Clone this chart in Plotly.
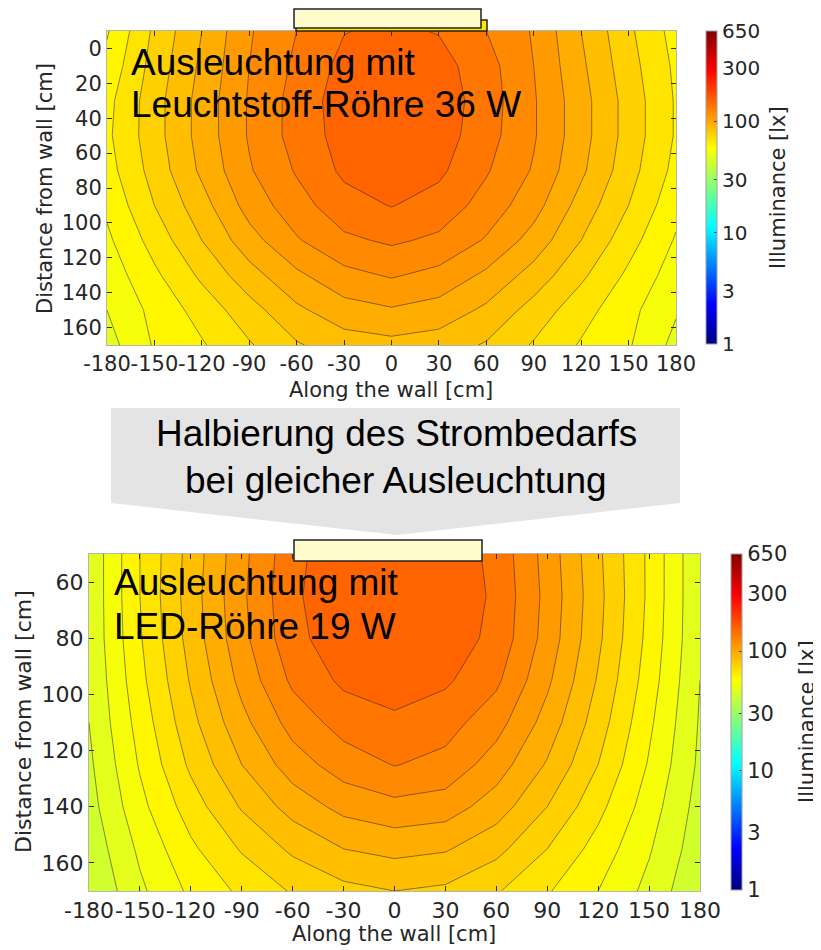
import numpy as np
import plotly.graph_objects as go

W, H = 821, 950
OX, OY = 8, 8   # the page body margin that shifts the figure on screen

# ---------------- data (log10 of illuminance in lx) ----------------
x_cm = [-180, -150, -120, -90, -60, -30, 0, 30, 60, 90, 120, 150, 180]
x_ticks = [-180, -150, -120, -90, -60, -30, 0, 30, 60, 90, 120, 150, 180]
x_ticktext = ["-180", "-150", "-120", "-90", "-60", "-30", "0", "30", "60", "90", "120", "150", "180"]

# Top chart: fluorescent tube 36 W
y_top_cm = [-10, 10, 30, 50, 70, 90, 110, 130, 150, 170]
top_log_lux = [
    [1.745, 1.86, 1.95, 2.045, 2.10, 2.148, 2.16, 2.147, 2.10, 2.045, 1.95, 1.86, 1.78],
    [1.765, 1.87, 1.96, 2.05, 2.11, 2.165, 2.18, 2.17, 2.12, 2.05, 1.96, 1.87, 1.79],
    [1.785, 1.88, 1.97, 2.055, 2.12, 2.175, 2.195, 2.18, 2.125, 2.055, 1.97, 1.88, 1.795],
    [1.79, 1.88, 1.97, 2.055, 2.12, 2.17, 2.195, 2.175, 2.12, 2.055, 1.97, 1.88, 1.795],
    [1.78, 1.87, 1.96, 2.045, 2.105, 2.16, 2.18, 2.16, 2.105, 2.045, 1.96, 1.87, 1.785],
    [1.76, 1.85, 1.93, 2.02, 2.08, 2.13, 2.152, 2.13, 2.08, 2.02, 1.93, 1.85, 1.765],
    [1.74, 1.82, 1.90, 1.98, 2.045, 2.09, 2.108, 2.09, 2.045, 1.98, 1.90, 1.82, 1.745],
    [1.72, 1.79, 1.86, 1.93, 1.99, 2.035, 2.055, 2.035, 1.99, 1.93, 1.86, 1.79, 1.725],
    [1.70, 1.765, 1.82, 1.88, 1.94, 1.98, 1.995, 1.98, 1.94, 1.88, 1.82, 1.765, 1.705],
    [1.68, 1.755, 1.795, 1.845, 1.895, 1.925, 1.935, 1.925, 1.895, 1.845, 1.795, 1.755, 1.685],
]
y_top_ticks = [0, 20, 40, 60, 80, 100, 120, 140, 160]

# Bottom chart: LED tube 19 W
y_bot_cm = [50, 65, 80, 95, 110, 125, 140, 155, 170]
bot_log_lux = [
    [1.66, 1.80, 1.92, 2.035, 2.135, 2.185, 2.19, 2.185, 2.135, 2.03, 1.91, 1.79, 1.655],
    [1.66, 1.80, 1.925, 2.04, 2.14, 2.19, 2.195, 2.19, 2.14, 2.035, 1.915, 1.79, 1.655],
    [1.66, 1.795, 1.92, 2.035, 2.135, 2.18, 2.19, 2.18, 2.135, 2.03, 1.91, 1.785, 1.655],
    [1.655, 1.785, 1.905, 2.015, 2.11, 2.16, 2.175, 2.158, 2.11, 2.01, 1.895, 1.775, 1.65],
    [1.65, 1.77, 1.885, 1.985, 2.07, 2.12, 2.14, 2.12, 2.07, 1.98, 1.875, 1.76, 1.645],
    [1.64, 1.755, 1.86, 1.95, 2.025, 2.075, 2.102, 2.085, 2.025, 1.945, 1.85, 1.745, 1.64],
    [1.63, 1.735, 1.825, 1.905, 1.97, 2.015, 2.035, 2.025, 1.975, 1.90, 1.815, 1.725, 1.63],
    [1.615, 1.71, 1.79, 1.855, 1.91, 1.95, 1.965, 1.955, 1.915, 1.85, 1.78, 1.705, 1.62],
    [1.60, 1.69, 1.76, 1.81, 1.855, 1.885, 1.90, 1.89, 1.855, 1.805, 1.75, 1.685, 1.605],
]
y_bot_ticks = [60, 80, 100, 120, 140, 160]

cbar_lux = [1, 3, 10, 30, 100, 300, 650]
cbar_text = ["1", "3", "10", "30", "100", "300", "650"]
ZMAX = float(np.log10(650))

JET = [[0.0, "#000080"], [0.125, "#0000FF"], [0.375, "#00FFFF"],
       [0.625, "#FFFF00"], [0.875, "#FF0000"], [1.0, "#800000"]]

TXT = "#262626"
TICKFONT = "DejaVu Sans"


def px(x):
    return (x - OX) / W


def py(y):
    return 1 - (y - OY) / H


fig = go.Figure()

# contour levels every 0.05 decade over the whole colour range, so the fill
# colours follow the 1..650 lx colour bar
contours = dict(start=0.0, end=2.80, size=0.05, coloring="fill", showlines=True)
line_style = dict(color="rgba(30,30,30,0.75)", width=0.7, smoothing=0)

fig.add_trace(go.Contour(
    x=x_cm, y=y_top_cm, z=top_log_lux, xaxis="x", yaxis="y",
    zmin=0, zmax=ZMAX, zauto=False, colorscale=JET, autocontour=False,
    contours=contours, line=line_style, showscale=False, hoverinfo="skip"))

fig.add_trace(go.Contour(
    x=x_cm, y=y_bot_cm, z=bot_log_lux, xaxis="x2", yaxis="y2",
    zmin=0, zmax=ZMAX, zauto=False, colorscale=JET, autocontour=False,
    contours=contours, line=line_style, showscale=False, hoverinfo="skip"))


def cbar_trace(xa, ya, x0, ytop, ybot, fsize):
    return go.Scatter(
        x=[None, None], y=[None, None], xaxis=xa, yaxis=ya, mode="markers",
        showlegend=False, hoverinfo="skip",
        marker=dict(color=[0, ZMAX], cmin=0, cmax=ZMAX, colorscale=JET, showscale=True,
                    colorbar=dict(
                        x=px(x0), xanchor="left", xpad=0, ypad=0,
                        y=py(ybot), yanchor="bottom", len=(ybot - ytop) / H, lenmode="fraction",
                        thickness=11, thicknessmode="pixels",
                        outlinewidth=1, outlinecolor="#a0a0a0",
                        tickvals=list(np.log10(cbar_lux)), ticktext=cbar_text,
                        ticks="inside", ticklen=3, tickcolor="#404040",
                        tickfont=dict(family=TICKFONT, size=fsize, color=TXT))))


fig.add_trace(cbar_trace("x", "y", 706, 31, 344, 20))
fig.add_trace(cbar_trace("x2", "y2", 731, 554, 890, 21))

axis_common = dict(showline=True, linecolor="#b4b4b4", linewidth=1, mirror="ticks",
                   ticks="inside", ticklen=5, tickcolor="#303030", showgrid=False,
                   zeroline=False, tickangle=0)

fig.update_layout(
    width=W, height=H, margin=dict(l=0, r=0, t=0, b=0, autoexpand=False),
    paper_bgcolor="white", plot_bgcolor="white", showlegend=False,
    xaxis=dict(domain=[px(107), px(676)], range=[-180, 180], anchor="y",
               tickvals=x_ticks, ticktext=x_ticktext,
               tickfont=dict(family=TICKFONT, size=21, color=TXT), **axis_common),
    yaxis=dict(domain=[py(345), py(31)], range=[170, -10], anchor="x",
               tickvals=y_top_ticks, tickfont=dict(family=TICKFONT, size=21, color=TXT),
               **axis_common),
    xaxis2=dict(domain=[px(89), px(700)], range=[-180, 180], anchor="y2",
                tickvals=x_ticks, ticktext=x_ticktext,
                tickfont=dict(family=TICKFONT, size=22, color=TXT), **axis_common),
    yaxis2=dict(domain=[py(891), py(554)], range=[170, 50], anchor="x2",
                tickvals=y_bot_ticks, tickfont=dict(family=TICKFONT, size=22, color=TXT),
                **axis_common),
)

# ---------------- shapes ----------------
arrow = [(111, 408), (680, 408), (680, 503), (397, 535), (111, 503)]
path = "M " + " L ".join(f"{px(a):.5f},{py(b):.5f}" for a, b in arrow) + " Z"
shapes = [
    dict(type="path", xref="paper", yref="paper", path=path,
         fillcolor="#e4e4e4", line=dict(width=0), layer="above"),
    # top lamp (shadow + body)
    dict(type="rect", xref="paper", yref="paper", x0=px(296), x1=px(487), y0=py(31), y1=py(20),
         fillcolor="#ffe800", line=dict(color="#222222", width=1.5), layer="above"),
    dict(type="rect", xref="paper", yref="paper", x0=px(294), x1=px(481), y0=py(28), y1=py(9),
         fillcolor="#fffccc", line=dict(color="#222222", width=1.5), layer="above"),
    # bottom lamp
    dict(type="rect", xref="paper", yref="paper", x0=px(294), x1=px(482), y0=py(561), y1=py(540),
         fillcolor="#fffccc", line=dict(color="#222222", width=1.5), layer="above"),
]
fig.update_layout(shapes=shapes)

# ---------------- text ----------------
ann = []


def add_text(text, x, y, size, family, color="black", angle=0, xanchor="center"):
    ann.append(dict(text=text, x=px(x), y=py(y), xref="paper", yref="paper",
                    showarrow=False, xanchor=xanchor, yanchor="middle", textangle=angle,
                    font=dict(family=family, size=size, color=color)))


SANS = "Liberation Sans"
add_text("Ausleuchtung mit", 129, 62, 37, SANS, xanchor="left")
add_text("Leuchtstoff-Röhre 36 W", 129, 105, 37, SANS, xanchor="left")
add_text("Ausleuchtung mit", 112, 582, 37, SANS, xanchor="left")
add_text("LED-Röhre 19 W", 112, 626, 37, SANS, xanchor="left")
add_text("Halbierung des Strombedarfs", 396, 433, 37, SANS)
add_text("bei gleicher Ausleuchtung", 396, 480, 37, SANS)

add_text("Along the wall [cm]", 391, 390, 21, TICKFONT, TXT)
add_text("Distance from wall [cm]", 45, 189, 21, TICKFONT, TXT, angle=-90)
add_text("Illuminance [lx]", 778, 188, 21, TICKFONT, TXT, angle=-90)
add_text("Along the wall [cm]", 394, 934, 21, TICKFONT, TXT)
add_text("Distance from wall [cm]", 23, 722, 22, TICKFONT, TXT, angle=-90)
add_text("Illuminance [lx]", 807, 722, 21, TICKFONT, TXT, angle=-90)

fig.update_layout(annotations=ann)

fig.write_html("out.html")
